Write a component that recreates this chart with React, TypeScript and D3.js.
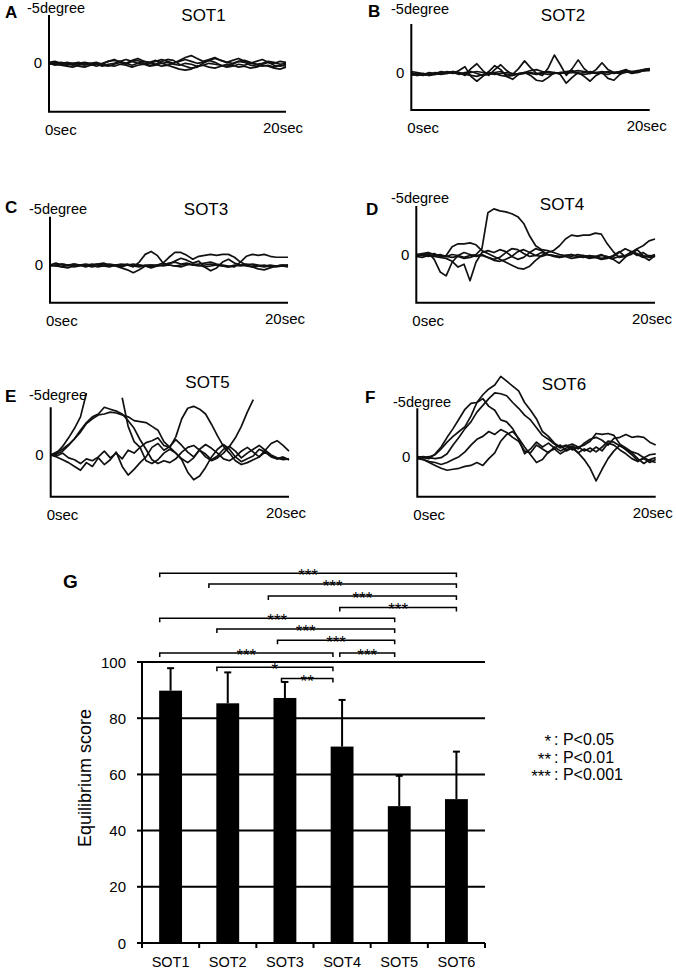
import * as d3 from "d3";

// ---- data ----
const times = [
  0, 0.5, 1, 1.5, 2, 2.5, 3, 3.5, 4, 4.5, 5, 5.5, 6, 6.5, 7, 7.5, 8, 8.5, 9, 9.5,
  10, 10.5, 11, 11.5, 12, 12.5, 13, 13.5, 14, 14.5, 15, 15.5, 16, 16.5, 17, 17.5,
  18, 18.5, 19, 19.5, 20,
];

// sway in degrees, negative = up (toward "-5degree")
const swayA = [
  [0,0.1,0.2,0.3,0.4,0.2,0,0.1,0.3,0.1,-0.2,-0.4,-0.1,0.1,-0.2,-0.3,0,0.2,0.1,-0.2,-0.4,-0.3,0.1,0.3,0.5,0.4,0,-0.3,-0.1,0.2,0.3,0.1,-0.2,-0.1,0.2,0.3,0.1,-0.1,0.2,0.3,0.1],
  [-0.1,-0.2,0,0.1,0,-0.1,0.1,0.2,0.1,0,-0.2,-0.3,-0.2,0,-0.3,-0.5,-0.2,0,-0.2,-0.4,-0.2,0,-0.3,-0.6,-0.8,-0.5,-0.2,-0.4,-0.6,-0.3,-0.1,-0.3,-0.5,-0.2,0,-0.2,-0.4,-0.1,0,-0.2,-0.1],
  [0,-0.1,0.1,0.2,0.1,0.3,0.4,0.2,0,0.2,0.3,0.1,-0.1,0,0.2,0,-0.2,-0.1,0.1,0.3,0.2,0.4,0.6,0.7,0.6,0.3,0.2,0.4,0.5,0.3,0.1,0.2,0.4,0.3,0.5,0.4,0.2,0.3,0.5,0.6,0.4],
  [0.1,0,-0.1,0,0.2,0,-0.1,0,0.1,0.3,0.1,0,-0.2,-0.4,-0.2,0,0.1,-0.1,-0.3,0,0.2,0,-0.2,-0.4,-0.2,0,-0.1,-0.3,-0.5,-0.3,-0.1,0,-0.2,-0.3,-0.1,0.1,0,-0.2,-0.1,0.1,0],
  [0,0.2,0.1,-0.1,0,0.1,0.2,0,-0.1,0.1,0.2,0.3,0.1,0.2,0.4,0.2,0.1,0.3,0.2,0,-0.1,0.1,0.2,0,0.1,0.3,0.2,0,0.1,0.2,0.4,0.3,0.1,0.2,0,0.1,0.3,0.2,0.4,0.2,0.3],
];
const swayB = [
  [0,0.2,0.3,0.1,0.2,0,0.1,-0.1,0,0.3,-0.4,-0.9,-0.2,0.3,-0.3,-0.8,-0.2,0.2,-0.4,-1.2,-0.5,0.1,0.3,-0.5,-1.8,-0.8,0.3,-0.4,-1.3,-0.4,0.1,-0.3,-1.0,-0.3,0,-0.1,-0.3,0,-0.1,-0.3,-0.4],
  [0.2,0.3,0.1,0.3,0.2,0.1,0,0.1,-0.2,-0.6,0.4,0.9,0.4,-0.1,-0.7,-0.3,0.4,0.7,0.2,0,0.3,0.8,0.9,0.5,0,0.2,1.1,0.5,0,0.4,0.9,0.3,0,0.6,0.8,0.2,-0.1,0.1,0,-0.2,-0.3],
  [0.3,0.1,0.2,0,0.1,-0.1,0,-0.1,0,0.1,0,-0.1,0,0.1,0.2,0.1,0,0.1,0.2,0.1,0,0.1,0,-0.1,0,0.1,0,-0.1,-0.2,-0.1,0,0.1,0,-0.1,0,-0.1,-0.2,-0.1,-0.2,-0.3,-0.4],
  [0.1,0.3,0.2,0.3,0.1,0.2,0.1,0,0.1,0.2,0.3,0.4,0.2,0,0.1,0.3,0.4,0.3,0.1,0,-0.2,-0.3,-0.1,0,0.1,0,0.1,0,0.1,0,-0.1,0,0.1,0.2,0,0.1,0,-0.1,0,-0.2,-0.3],
  [-0.1,0,0.1,0.2,0,0.1,-0.1,0,0.2,0,-0.1,0.1,0.3,0.2,0,-0.1,0.2,0.3,0.1,0,0.1,0.2,0.1,0.2,0.1,0,-0.1,-0.2,0.1,0.2,0.1,0,-0.1,0,0.1,0,-0.1,0,-0.1,-0.2,-0.2],
];
const swayC = [
  [0,-0.2,0,0.1,-0.1,0,0.2,0,-0.1,0,0.1,0,0.2,0,-0.1,0,0.1,0.3,0.1,0,-0.2,-0.3,-0.1,-0.2,0,-0.1,-0.2,-0.3,-0.1,0,0.1,0.2,-0.3,-0.9,-1.1,-1.0,-1.1,-0.9,-0.8,-0.8,-0.8],
  [0.1,0,-0.1,0,0.2,0.1,0,0.2,0.1,0,-0.1,0,0.1,0,0.2,-0.3,-1.1,-1.4,-1.0,-0.2,0,0.1,0,-0.1,0,0.1,0,-0.1,0,0.1,0.2,0,0.1,0,-0.1,0,0.1,0,0.1,0,0],
  [0,0.1,0.2,0,-0.1,0,0.1,0,-0.1,-0.2,0,0.1,0.3,0.5,0.8,0.5,0.1,0,0,-0.2,-0.8,-1.3,-1.3,-1.0,-0.6,-0.9,-1.0,-1.1,-1.0,-1.1,-1.1,-0.8,-0.3,0,0.2,0.1,0,0.2,0.1,0,0.1],
  [0.1,0,0.2,0.3,0.1,0,-0.1,0,0.2,0.1,0,0.1,0,-0.1,0.1,0.2,0,0,0.1,0,-0.1,-0.4,-0.7,-0.5,-0.2,-0.4,0.2,0.6,0.3,-0.3,-0.6,-0.2,0,0.1,0.2,0.4,0.5,0.3,0.1,0.1,0],
  [0,0.1,-0.1,0,0.1,0,0.1,-0.1,0,0.1,0.2,0,-0.1,0,0.1,0,0.1,0.2,0,0.1,0,0.1,0.2,0,-0.1,0,0.2,0.1,0,0.1,0.2,0.1,0,-0.1,0,0.1,0.2,0.1,0.2,0.1,0.2],
];
const swayD = [
  [0,0.1,-0.2,0,0.1,0.2,0,0.1,0.3,0.1,0,-0.6,-4.3,-4.7,-4.5,-4.4,-4.2,-3.9,-3.2,-1.9,-0.9,-0.5,-0.4,-0.2,0,0.1,0,0.2,0.1,0.2,0.3,0.1,0.2,0.4,0.2,0.1,-0.2,0,0.3,0.1,0.2],
  [0,0.1,0,-0.1,0.2,0.1,-0.8,-1.1,-1.1,-1.2,-1.0,-0.4,-0.1,0.2,0.5,0.8,1.1,1.4,1.5,1.2,0.6,0.1,-0.2,-0.4,-0.9,-1.6,-2.0,-1.9,-2.0,-2.0,-2.2,-2.1,-1.1,-0.3,0.3,0.2,-0.2,-0.6,-0.9,-1.4,-1.6],
  [0,-0.1,-0.2,0.5,1.8,2.2,0.8,0.1,-0.2,0,0.2,0.1,0.3,0.5,0.3,-0.2,-0.6,-0.5,-0.1,0.2,0.1,-0.2,0,0.2,0.3,0.2,0.4,0.3,0.2,0.4,0.3,0.5,0.4,0.1,-0.3,0.2,0,-0.5,0.1,0.3,0.2],
  [0.2,0.3,0.1,0.2,0.3,0.4,0.7,1.3,1.0,2.7,0.8,-0.2,-0.4,-0.2,-0.5,-0.3,0.2,0.5,0.3,-0.2,-0.6,-0.4,0,0.1,0.3,0.1,0.2,0,0.1,0.3,0.2,0.4,0.3,0.5,0.9,0.3,-0.3,-0.1,0.2,0.6,0.1],
  [0.1,0,0.2,0.1,0,0.2,0.3,0.2,0.4,0.3,0.1,0,0.3,0.6,0.7,0.5,0.2,-0.3,-0.5,-0.2,0.1,0.2,0,0.1,0.2,0.1,0,0.2,0.3,0.1,0.2,0,0.3,0.2,-0.2,-0.6,-0.3,0.1,-0.2,0.2,0],
];
const swayE = [
  [0,-0.2,-0.9,-1.8,-2.8,-4.0,-6.5,null,null,null,null,null,-6.0,-3.0,-1.4,-0.8,0.6,0.9,0.5,-0.2,-0.6,-0.2,0.5,1.8,2.6,2.2,1.3,0.2,-0.6,-1.1,-0.6,0.2,0.7,0.4,0.1,-0.6,-0.3,0.2,0.4,0.3,0.5],
  [0,-0.1,-0.4,-1.0,-1.7,-2.6,-3.4,-4.0,-4.3,-5.0,-4.8,-4.6,-4.3,-3.6,-2.8,-1.6,-0.6,0.5,0.9,0.6,0.8,0.4,-0.3,-0.8,-1.0,-0.5,0.2,0.6,0.3,-0.2,-0.9,-1.8,-3.0,-4.5,-5.8,null,null,null,null,null,null],
  [0,-0.3,-0.6,-1.1,-1.7,-2.4,-3.3,-3.8,-4.2,-4.3,-4.5,-4.4,-4.2,-4.0,-3.6,-3.5,-3.4,-3.0,-2.6,-1.4,-0.8,-0.2,0.4,0.8,0.3,-0.6,-1.1,-0.7,-0.2,0.4,0.6,0.2,-0.4,-0.8,-0.3,0.2,-0.5,-1.2,-1.5,-1.0,-0.4],
  [0,0.2,0.5,0.8,1.2,1.6,0.8,1.2,0.3,1.0,0.5,-0.3,1.2,2.1,1.5,0.8,0.2,-0.8,-1.2,-0.5,-0.9,-1.6,-1.0,-0.3,0.2,-0.5,-0.1,0.5,0.1,-0.6,-0.9,-0.4,0.3,-0.2,-0.6,-1.0,-0.5,0,0.3,0.5,0.4],
  [0,0.1,-0.2,0.3,0.5,0.9,0.4,0.6,0.2,-0.4,0.3,-0.2,0.4,-0.5,-0.2,-0.8,-1.3,-1.5,-1.8,-1.0,-0.8,-1.9,-3.8,-4.9,-5.1,-4.8,-4.3,-3.2,-2.0,-0.9,-0.2,0.6,1.0,0.8,0.5,0.2,-0.3,0.1,0.4,0.2,0.5],
];
const swayF = [
  [0,0.1,0,-0.2,-0.8,-1.5,-2.1,-2.6,-3.1,-4.2,-5.6,-6.4,-7.0,-7.4,-8.3,-7.8,-7.3,-6.8,-5.6,-4.8,-3.9,-2.6,-2.1,-1.4,-1.0,-1.2,-0.7,-1.0,-0.6,-0.9,-0.5,-1.0,-1.6,-1.5,-1.1,-0.8,-0.4,0.2,0.7,0.3,0.1],
  [0,0.1,0.2,-0.3,-1.0,-2.0,-2.9,-3.9,-4.9,-5.5,-5.6,-6.0,-5.2,-4.8,-3.8,-3.6,-2.9,-1.8,-0.3,-0.8,-1.5,-1.0,-1.4,-0.9,-1.2,-0.6,-0.9,-0.4,0.3,1.2,2.5,1.3,0.2,-0.6,-1.2,-0.7,-0.2,0.4,0.2,0.6,0.3],
  [0.1,0,0.1,0.2,0.1,-0.3,-1.2,-2.0,-2.9,-3.6,-4.6,-5.3,-6.0,-6.6,-6.5,-6.3,-5.6,-5.0,-4.3,-3.8,-3.0,-2.2,-1.8,-1.3,-0.9,-1.1,-1.3,-1.0,-1.2,-1.6,-2.4,-2.3,-2.4,-2.2,-1.3,-0.9,-0.5,-0.3,0.1,-0.2,-0.3],
  [0.2,0.3,0.5,0.6,0.8,0.6,0.3,0,-0.5,-1.2,-1.8,-2.1,-2.6,-2.3,-2.8,-2.5,-2.0,-1.6,-0.6,-0.4,-1.2,-0.8,-0.4,-1.0,-0.6,-0.9,-1.1,-0.8,-1.4,-1.8,-2.0,-1.7,-1.2,-1.9,-2.0,-2.3,-2.0,-2.1,-2.0,-1.5,-1.2],
  [0,0.3,0.6,0.9,1.2,1.4,1.3,1.2,1.0,0.9,0.6,0.9,0.2,-0.4,-1.6,-2.3,-2.6,-1.9,-1.0,-0.2,0.6,0.3,-0.5,-0.8,-0.3,-0.7,-1.0,-0.4,-0.8,-0.5,-1.0,-0.6,-1.4,-1.2,-0.7,-0.3,0.2,0.5,0.1,0.4,0.6],
];

const sotNames = ["SOT1", "SOT2", "SOT3", "SOT4", "SOT5", "SOT6"];
const scoreMean = [89.8, 85.3, 87.2, 69.9, 48.7, 51.2];
const scoreSD = [8.0, 11.0, 5.7, 16.6, 10.8, 16.9];
const scoreTicks = [0, 20, 40, 60, 80, 100];

const bracketFrom = ["SOT1", "SOT2", "SOT3", "SOT4", "SOT1", "SOT2", "SOT3", "SOT1", "SOT4", "SOT2", "SOT3"];
const bracketTo = ["SOT6", "SOT6", "SOT6", "SOT6", "SOT5", "SOT5", "SOT5", "SOT4", "SOT5", "SOT4", "SOT4"];
const bracketLevel = [131.6, 127.8, 123.5, 119.4, 115.6, 111.7, 107.7, 103.2, 103.2, 98.1, 94.1];
const bracketStars = ["***", "***", "***", "***", "***", "***", "***", "***", "***", "*", "**"];

const legendStars = ["*", "**", "***"];
const legendText = [": P<0.05", ": P<0.01", ": P<0.001"];

// ---- layout ----
const FONT = "'Liberation Sans', Arial, Helvetica, sans-serif";
const W = 676;
const H = 969;

const panels = [
  { letter: "A", title: "SOT1", traces: swayA, x0: 49, x1: 286, top: 15, zero: 63.3, bottom: 111.7, lx: 5, ly: 18, dx: 27, dy: 13, tx: 203.5, ty: 20.5 },
  { letter: "B", title: "SOT2", traces: swayB, x0: 411.3, x1: 649.7, top: 24, zero: 72.5, bottom: 110, lx: 368, ly: 17, dx: 391, dy: 14, tx: 563, ty: 21 },
  { letter: "C", title: "SOT3", traces: swayC, x0: 50, x1: 288, top: 216.7, zero: 265, bottom: 302.7, lx: 5, ly: 213, dx: 29, dy: 214, tx: 206, ty: 215 },
  { letter: "D", title: "SOT4", traces: swayD, x0: 416.3, x1: 655, top: 206, zero: 254.5, bottom: 302.7, lx: 366, ly: 215, dx: 391, dy: 203, tx: 562, ty: 210 },
  { letter: "E", title: "SOT5", traces: swayE, x0: 50.7, x1: 289, top: 407.3, zero: 455, bottom: 496.7, lx: 5, ly: 402, dx: 29, dy: 400, tx: 207.5, ty: 388 },
  { letter: "F", title: "SOT6", traces: swayF, x0: 417.3, x1: 655.7, top: 408.3, zero: 456.7, bottom: 496.7, lx: 365, ly: 403, dx: 393, dy: 407, tx: 564, ty: 390 },
];

type Panel = (typeof panels)[number];

function SwayPanel({ p }: { p: Panel }) {
  const x = d3.scaleLinear().domain([0, 20]).range([p.x0, p.x1]);
  const y = d3.scaleLinear().domain([-5, 0]).range([p.top, p.zero]);
  const line = d3
    .line<number | null>()
    .defined((d) => d !== null)
    .x((_, i) => x(times[i]))
    .y((d) => y(d as number));

  return (
    <g>
      <text x={p.lx} y={p.ly} fontSize={17} fontWeight="bold">
        {p.letter}
      </text>
      <text x={p.dx} y={p.dy} fontSize={14.5}>
        -5degree
      </text>
      <text x={p.tx} y={p.ty} fontSize={17} textAnchor="middle">
        {p.title}
      </text>
      <text x={p.x0 - 7} y={y(0) + 5} fontSize={15} textAnchor="end">
        0
      </text>
      <text x={p.x0 - 4} y={p.bottom + 23} fontSize={15}>
        0sec
      </text>
      <text x={p.x1 + 17} y={p.bottom + 21} fontSize={15} textAnchor="end">
        20sec
      </text>
      {p.traces.map((tr, i) => (
        <path
          key={i}
          d={line(tr as (number | null)[]) ?? ""}
          fill="none"
          stroke="#111"
          strokeWidth={1.7}
          strokeLinejoin="round"
        />
      ))}
      <path
        d={`M${p.x0},${p.top}V${p.bottom}H${p.x1}`}
        fill="none"
        stroke="#000"
        strokeWidth={2}
      />
    </g>
  );
}

// where each bracket end sits inside its category slot (fraction of the slot)
const bracketStartFrac = [0.31, 0.17, 0.21, 0.46, 0.31, 0.31, 0.37, 0.31, 0.46, 0.31, 0.44];
const bracketEndFrac = [0.5, 0.5, 0.5, 0.5, 0.42, 0.42, 0.42, 0.34, 0.42, 0.34, 0.34];

function ScoreChart() {
  const left = 142;
  const right = 485;
  const x = d3
    .scaleBand<string>()
    .domain(sotNames)
    .range([left, right])
    .paddingInner(0.6)
    .paddingOuter(0.3);
  const step = x.step();
  const slotStart = (c: string) => (x(c) ?? 0) - step * 0.3;
  const cx = (c: string) => (x(c) ?? 0) + x.bandwidth() / 2;
  const y = d3.scaleLinear().domain([0, 100]).range([943, 662]);

  return (
    <g>
      <text x={63} y={588} fontSize={19} fontWeight="bold">
        G
      </text>
      {/* gridlines */}
      {scoreTicks
        .filter((t) => t > 0)
        .map((t) => (
          <line key={t} x1={left} x2={right} y1={y(t)} y2={y(t)} stroke="#000" strokeWidth={2} />
        ))}
      {/* bars */}
      {sotNames.map((c, i) => (
        <rect
          key={c}
          x={x(c)}
          y={y(scoreMean[i])}
          width={x.bandwidth()}
          height={y(0) - y(scoreMean[i])}
          fill="#000"
        />
      ))}
      {/* error bars */}
      {sotNames.map((c, i) => {
        const top = y(scoreMean[i] + scoreSD[i]);
        return (
          <g key={c} stroke="#000" strokeWidth={2}>
            <line x1={cx(c)} x2={cx(c)} y1={y(scoreMean[i])} y2={top} />
            <line x1={cx(c) - 3.5} x2={cx(c) + 3.5} y1={top} y2={top} />
          </g>
        );
      })}
      {/* axes */}
      <line x1={left} x2={left} y1={y(0)} y2={y(100)} stroke="#000" strokeWidth={2} />
      <line x1={left} x2={right} y1={y(0)} y2={y(0)} stroke="#000" strokeWidth={2} />
      {scoreTicks.map((t) => (
        <g key={t}>
          <line x1={left - 5} x2={left} y1={y(t)} y2={y(t)} stroke="#000" strokeWidth={2} />
          <text x={left - 16} y={y(t) + 5.5} fontSize={15} textAnchor="end">
            {t}
          </text>
        </g>
      ))}
      {d3.range(sotNames.length + 1).map((k) => (
        <line
          key={k}
          x1={left + k * step}
          x2={left + k * step}
          y1={y(0)}
          y2={y(0) + 5}
          stroke="#000"
          strokeWidth={2}
        />
      ))}
      {sotNames.map((c) => (
        <text key={c} x={cx(c)} y={967} fontSize={14.5} textAnchor="middle">
          {c}
        </text>
      ))}
      <text
        transform={`translate(91,778) rotate(-90)`}
        fontSize={18}
        textAnchor="middle"
      >
        Equilibrium score
      </text>
      {/* significance brackets */}
      {bracketFrom.map((from, i) => {
        const to = bracketTo[i];
        const x1 = slotStart(from) + bracketStartFrac[i] * step;
        const x2 = slotStart(to) + bracketEndFrac[i] * step;
        const yy = y(bracketLevel[i]);
        return (
          <g key={i}>
            <path
              d={`M${x1},${yy + 4}V${yy}H${x2}V${yy + 4}`}
              fill="none"
              stroke="#000"
              strokeWidth={1.5}
            />
            <text x={(x1 + x2) / 2} y={yy + 8} fontSize={17} textAnchor="middle">
              {bracketStars[i]}
            </text>
          </g>
        );
      })}
      {/* legend */}
      {legendStars.map((s, i) => (
        <g key={s}>
          <text x={551} y={747 + i * 17.5} fontSize={17} textAnchor="end">
            {s}
          </text>
          <text x={554} y={745 + i * 17.5} fontSize={16}>
            {legendText[i]}
          </text>
        </g>
      ))}
    </g>
  );
}

export default function App() {
  return (
    <svg
      width={W}
      height={H}
      viewBox={`0 0 ${W} ${H}`}
      style={{ position: "absolute", left: 0, top: 0, background: "#fff" }}
      fontFamily={FONT}
      fill="#000"
    >
      <rect width={W} height={H} fill="#fff" />
      {panels.map((p) => (
        <SwayPanel key={p.letter} p={p} />
      ))}
      <ScoreChart />
    </svg>
  );
}
